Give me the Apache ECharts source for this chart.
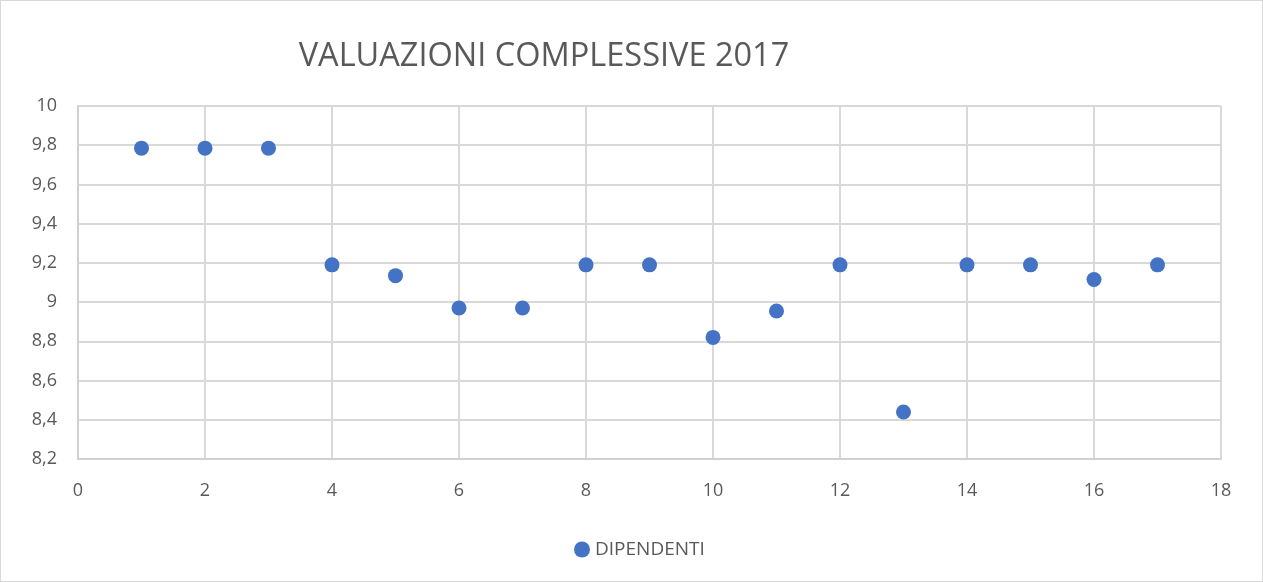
<!DOCTYPE html>
<html><head><meta charset="utf-8">
<script src="https://cdn.jsdelivr.net/npm/echarts@6/dist/echarts.min.js"></script>
<style>html,body{margin:0;padding:0;background:#fff}#c{width:1263px;height:582px;box-sizing:border-box;border:1px solid #d9d9d9;}</style>
</head><body><div id="c"></div>
<script>
const titleText = 'VALUAZIONI COMPLESSIVE 2017';
const seriesName = 'DIPENDENTI';
const xValues = [1,2,3,4,5,6,7,8,9,10,11,12,13,14,15,16,17];
const yValues = [9.785,9.785,9.785,9.19,9.135,8.97,8.97,9.19,9.19,8.82,8.955,9.19,8.44,9.19,9.19,9.115,9.19];
const chart = echarts.init(document.getElementById('c'));
const fmt = v => String(Math.round(v*10)/10).replace('.', ',');
chart.setOption({
  animation:false,
  title:{text:titleText,left:538,top:34,textAlign:'center',textStyle:{fontFamily:'Open Sans',fontWeight:'normal',fontSize:32.5,color:'#595959'}},
  legend:{data:[{name:seriesName,icon:'circle'}],left:568,top:534,itemWidth:16,itemHeight:16,itemGap:5,textStyle:{fontFamily:'Open Sans',fontSize:19,color:'#595959'}},
  grid:{left:77,right:41,top:105,bottom:122},
  xAxis:{type:'value',min:0,max:18,interval:2,
    axisLine:{show:true,lineStyle:{color:'#d0d0d0',width:2}},axisTick:{show:false},
    splitLine:{show:true,lineStyle:{color:'#d9d9d9',width:2}},
    axisLabel:{fontFamily:'Open Sans',fontSize:18,color:'#595959',margin:23}},
  yAxis:{type:'value',min:8.2,max:10,interval:0.2,
    axisLine:{show:true,lineStyle:{color:'#d0d0d0',width:2}},axisTick:{show:false},
    splitLine:{show:true,lineStyle:{color:'#d9d9d9',width:2}},
    axisLabel:{fontFamily:'Open Sans',fontSize:18,color:'#595959',margin:21,formatter:fmt}},
  series:[{name:seriesName,type:'scatter',symbolSize:15,itemStyle:{color:'#4472C4',opacity:1},
    data:xValues.map((x,i)=>[x,yValues[i]])}]
});
</script></body></html>
